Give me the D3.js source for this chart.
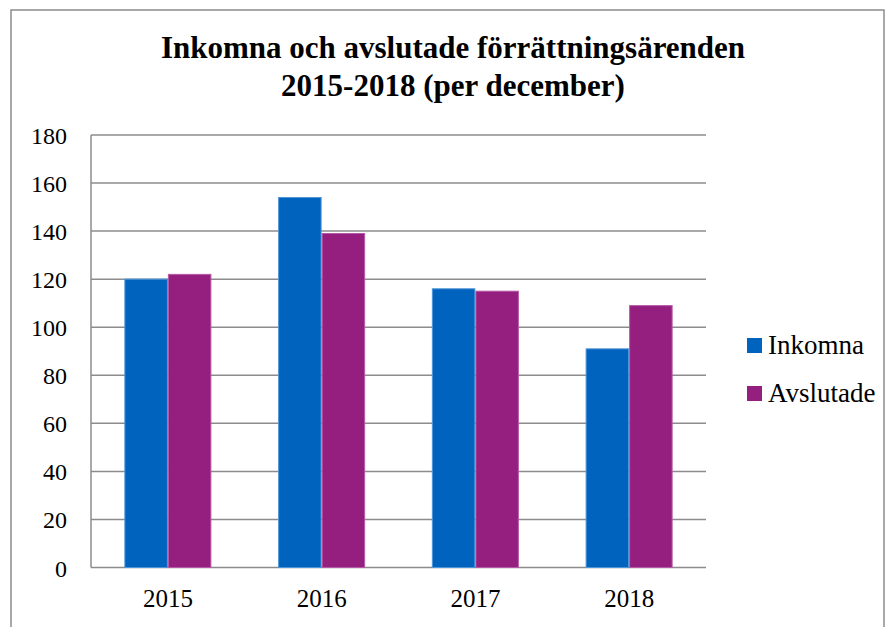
<!DOCTYPE html>
<html>
<head>
<meta charset="utf-8">
<script src="https://cdn.jsdelivr.net/npm/d3@7"></script>
<style>
  html, body { margin: 0; padding: 0; background: #fff; }
  svg { display: block; }
  text { font-family: "Liberation Serif", "Times New Roman", serif; fill: #000; }
</style>
</head>
<body>
<svg id="chart" width="896" height="627"></svg>
<script>
const categories = ["2015", "2016", "2017", "2018"];
const seriesNames = ["Inkomna", "Avslutade"];
const inkomna = [120, 154, 116, 91];
const avslutade = [122, 139, 115, 109];
const yTicks = [0, 20, 40, 60, 80, 100, 120, 140, 160, 180];
const titleLines = ["Inkomna och avslutade förrättningsärenden", "2015-2018 (per december)"];
const colors = ["#0063be", "#951f7f"];
const strokeColors = ["#4f95d8", "#b75aa6"];

const svg = d3.select("#chart");
const plot = { left: 91, right: 706, top: 135, bottom: 567.5 };

// outer frame
svg.append("rect")
  .attr("x", 11).attr("y", 10)
  .attr("width", 873).attr("height", 640)
  .attr("fill", "none").attr("stroke", "#8c8c8c").attr("stroke-width", 1.5);

// title
svg.append("text")
  .attr("text-anchor", "middle")
  .attr("font-weight", "bold")
  .attr("font-size", 31)
  .selectAll("tspan").data(titleLines).join("tspan")
  .attr("x", 453)
  .attr("y", (d, i) => 58 + i * 38)
  .text(d => d);

const x0 = d3.scaleBand().domain(categories).range([plot.left, plot.right]).paddingInner(0.434).paddingOuter(0.217);
const x1 = d3.scaleBand().domain(seriesNames).range([0, x0.bandwidth()]);
const y = d3.scaleLinear().domain([0, 180]).range([plot.bottom, plot.top]);

// gridlines
svg.append("g").selectAll("line").data(yTicks).join("line")
  .attr("x1", plot.left).attr("x2", plot.right)
  .attr("y1", d => y(d)).attr("y2", d => y(d))
  .attr("stroke", "#8c8c8c").attr("stroke-width", 1.5);

// y axis line
svg.append("line")
  .attr("x1", plot.left).attr("x2", plot.left)
  .attr("y1", plot.top).attr("y2", plot.bottom)
  .attr("stroke", "#8c8c8c").attr("stroke-width", 1.5);

// y tick labels
svg.append("g").selectAll("text").data(yTicks).join("text")
  .attr("x", 67).attr("y", d => y(d) + 9)
  .attr("text-anchor", "end")
  .attr("font-size", 24)
  .text(d => d);

// bars
const data = categories.map((c, i) => ({ cat: c, vals: [inkomna[i], avslutade[i]] }));
const groups = svg.append("g").selectAll("g").data(data).join("g")
  .attr("transform", d => `translate(${x0(d.cat)},0)`);
groups.selectAll("rect").data(d => d.vals.map((v, j) => ({ v, s: seriesNames[j], j })))
  .join("rect")
  .attr("x", d => x1(d.s) + 0.5)
  .attr("width", x1.bandwidth() - 1)
  .attr("y", d => y(d.v))
  .attr("height", d => y(0) - y(d.v))
  .attr("fill", d => colors[d.j])
  .attr("stroke", d => strokeColors[d.j])
  .attr("stroke-width", 1);

// x labels
svg.append("g").selectAll("text").data(categories).join("text")
  .attr("x", d => x0(d) + x0.bandwidth() / 2)
  .attr("y", 607)
  .attr("text-anchor", "middle")
  .attr("font-size", 25)
  .text(d => d);

// legend
const legend = svg.append("g").selectAll("g").data(seriesNames).join("g")
  .attr("transform", (d, i) => `translate(747, ${338 + i * 48})`);
legend.append("rect")
  .attr("width", 15).attr("height", 15)
  .attr("fill", (d, i) => colors[i]);
legend.append("text")
  .attr("x", 21).attr("y", 16)
  .attr("font-size", 27)
  .text(d => d);
</script>
</body>
</html>
